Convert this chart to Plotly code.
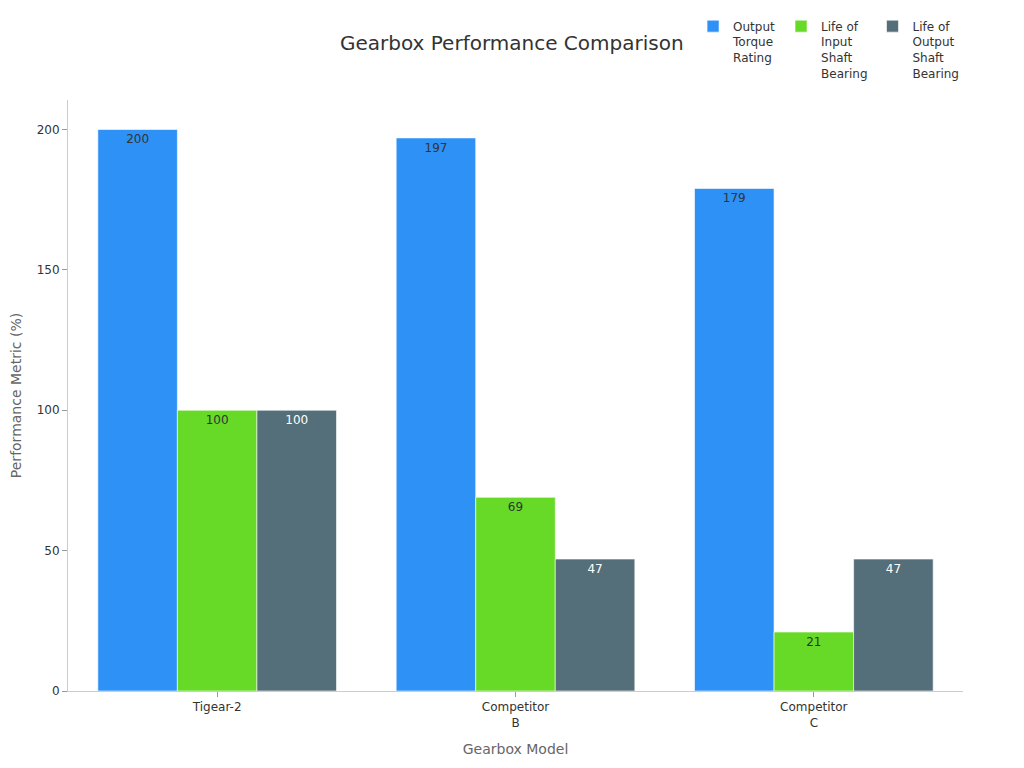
import plotly.graph_objects as go

models = ["Tigear-2", "Competitor<br>B", "Competitor<br>C"]
series_names = ["Output<br>Torque<br>Rating", "Life of<br>Input<br>Shaft<br>Bearing",
                "Life of<br>Output<br>Shaft<br>Bearing"]
torque = [200, 197, 179]
input_life = [100, 69, 21]
output_life = [100, 47, 47]

colors = ["#2E91F6", "#66DA26", "#546E7A"]
label_colors = ["#333333", "#333333", "#ffffff"]

fig = go.Figure()
for name, vals, col, lcol in zip(series_names, [torque, input_life, output_life], colors, label_colors):
    fig.add_trace(go.Bar(
        x=models, y=vals, name=name,
        marker=dict(color=col, line=dict(color="rgba(255,255,255,0.6)", width=1)),
        text=vals, textposition="inside", insidetextanchor="end",
        textfont=dict(size=12, color=lcol), textangle=0,
    ))

fig.update_layout(
    width=1024, height=768,
    font=dict(family="DejaVu Sans", size=12, color="#333"),
    plot_bgcolor="white", paper_bgcolor="white",
    barmode="group", bargap=0.2, bargroupgap=0,
    margin=dict(l=60, r=69, t=92, b=85),
    title=dict(text="Gearbox Performance Comparison", x=0.492, xanchor="center",
               y=0.9544, yanchor="middle", font=dict(size=20, color="#333")),
    legend=dict(orientation="h", xref="container", yref="container",
                x=0.669, xanchor="left", y=0.995, yanchor="top",
                font=dict(size=12, color="#333"), itemwidth=30, valign="top"),
    xaxis=dict(showline=True, linecolor="#cccccc", ticks="outside", tickcolor="#999",
               ticklen=5, showgrid=False, tickfont=dict(size=12), automargin=False,
               title=dict(text="Gearbox Model", font=dict(size=14, color="#666"))),
    yaxis=dict(range=[0, 210.5], showline=True, linecolor="#cccccc", ticks="outside",
               tickcolor="#999", ticklen=5, showgrid=False, zeroline=False, automargin=False,
               tickvals=[0, 50, 100, 150, 200], tickfont=dict(size=12),
               title=dict(text="Performance Metric (%)", font=dict(size=14, color="#666"))),
    uniformtext=dict(mode="show", minsize=8),
)

fig.write_html("out.html")
